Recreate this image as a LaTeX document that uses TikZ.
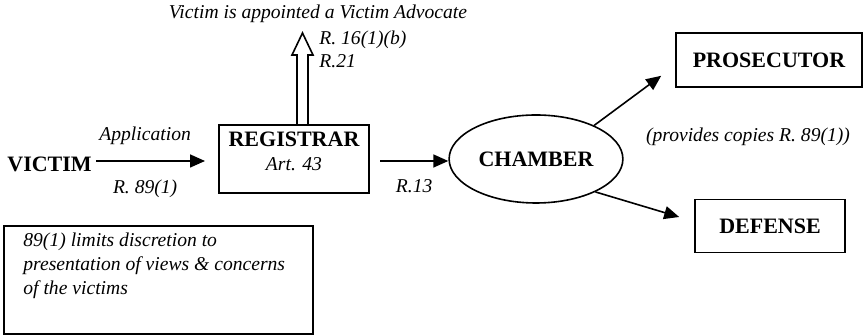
\documentclass[tikz,border=0pt]{standalone}
\usepackage{fontspec}
\setmainfont{Liberation Serif}
\usetikzlibrary{arrows.meta,shapes.geometric,positioning}
\tikzset{
	box/.style={draw, line width=0.8pt, font=\fontsize{11}{13}\selectfont\bfseries, inner sep=2pt},
	lbl/.style={font=\fontsize{9.8}{12}\selectfont\itshape, inner sep=1pt},
	flow/.style={-{Triangle[length=7.5pt,width=6.5pt]}, line width=0.8pt}
}
\begin{document}
\begin{tikzpicture}[x=0.5pt,y=-0.5pt]
	\useasboundingbox (0,0) rectangle (864,335);
	%Nodes
	\node[font=\fontsize{11}{13}\selectfont\bfseries, anchor=west, inner sep=0pt] (victim) at (7,164) {VICTIM};
	\node[box, minimum width=75pt, minimum height=34pt, align=center] (registrar) at (294,159) {REGISTRAR\\[-1pt]{\mdseries\itshape\fontsize{9.8}{12}\selectfont Art. 43}\\[-5pt]};
	\node[box, ellipse, minimum width=83pt, minimum height=44pt] (chamber) at (536,159) {CHAMBER};
	\node[box, minimum width=93pt, minimum height=27pt] (prosecutor) at (769,60) {PROSECUTOR};
	\node[box, minimum width=75pt, minimum height=26.5pt] (defense) at (770,226) {DEFENSE};
	\node[draw, line width=0.8pt, minimum width=154.5pt, minimum height=54pt, anchor=north west] (note) at (3,225) {};
	\node[lbl, anchor=north west, align=left, font=\fontsize{9.8}{12}\selectfont\itshape] (notetext) at ([xshift=9pt,yshift=-3pt]note.north west) {89(1) limits discretion to\\presentation of views \& concerns\\of the victims};
	%Coordinates
	\coordinate (regin) at (205,161);
	\coordinate (regout) at (380,161);
	\coordinate (advbase) at (302.5,125);
	\coordinate (advtip) at (302.5,33);
	%Flows
	\draw[flow] ([xshift=2pt]victim.east |- regin) -- (regin) node[lbl, pos=0.45, above=7pt] {Application} node[lbl, pos=0.45, below=8pt] {R. 89(1)};
	\draw[flow] (regout) -- (regout -| chamber.west) node[lbl, midway, below=8pt] {R.13};
	\draw[flow] (chamber.30) -- ([xshift=-7pt,yshift=6pt]prosecutor.south west);
	\draw[flow] (chamber.-29) -- ([xshift=-7.5pt,yshift=4.5pt]defense.west);
	%Hollow arrow
	\draw[line width=0.8pt, fill=white] ([xshift=-2.75pt]advbase) -- ++(0,-70) -- ++(-2.5pt,0) -- (advtip) -- ([xshift=5.25pt,yshift=-11pt]advtip) -- ++(-2.5pt,0) -- ([xshift=2.75pt]advbase) -- cycle;
	%Labels
	\node[lbl] (advocate) at (318,14) {Victim is appointed a Victim Advocate};
	\node[lbl, anchor=west] (rule16) at (317,40) {R. 16(1)(b)};
	\node[lbl, anchor=west] (rule21) at (317,61) {R.21};
	\node[lbl] (copies) at (748,137) {(provides copies R. 89(1))};
\end{tikzpicture}
\end{document}
